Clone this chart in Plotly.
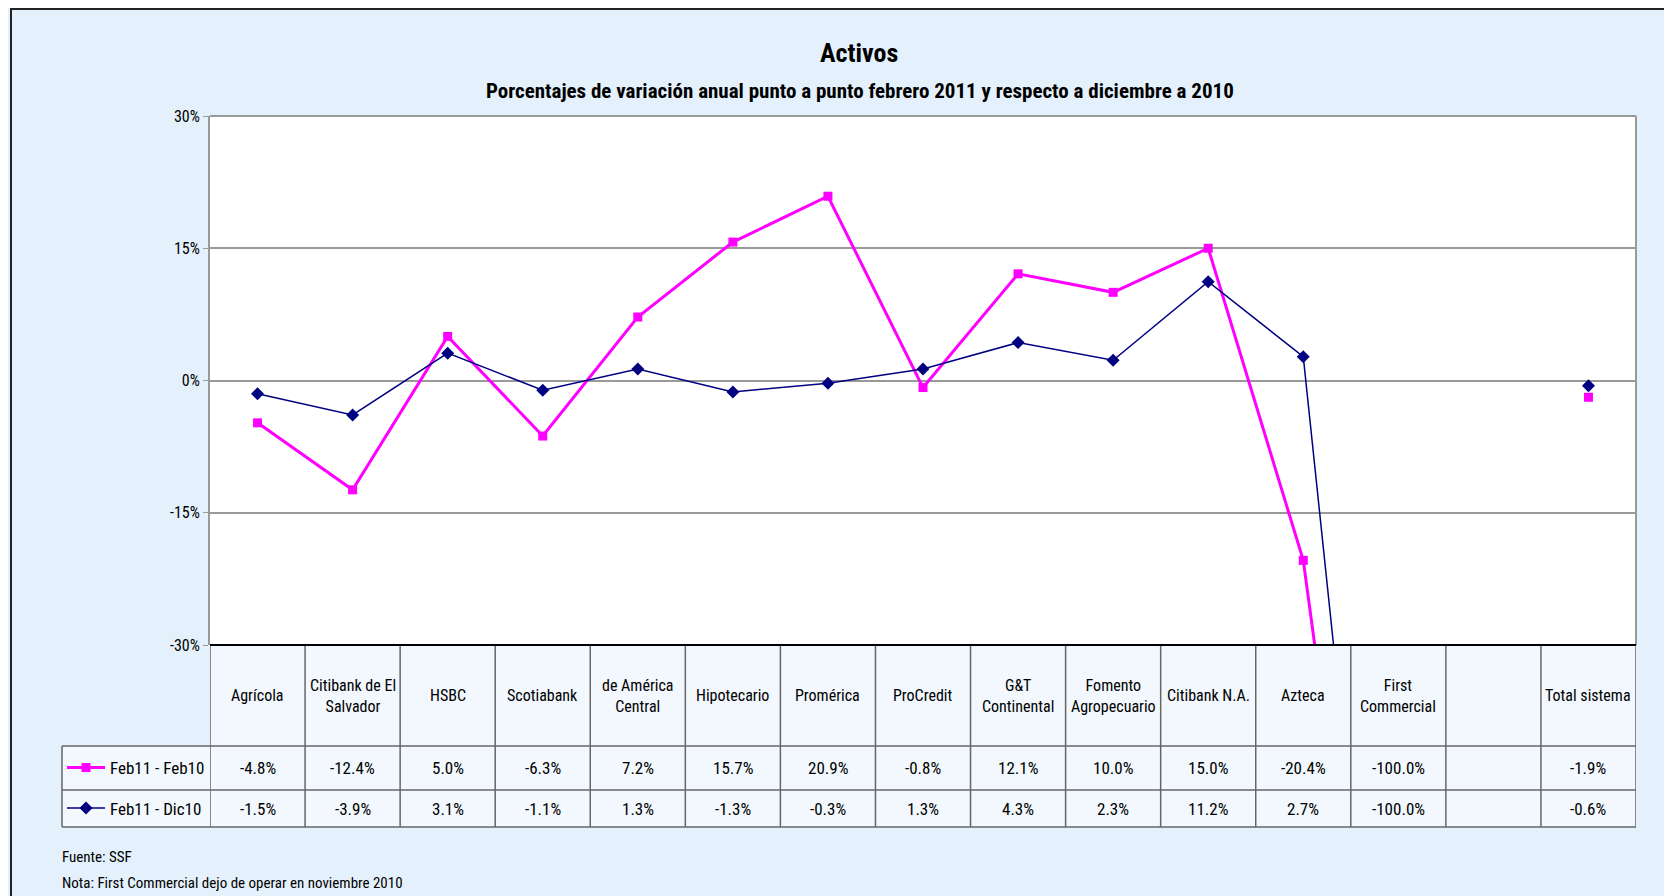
import plotly.graph_objects as go

# ---------------- data ----------------
categories = ["Agrícola", "Citibank de El Salvador", "HSBC", "Scotiabank",
              "de América Central", "Hipotecario", "Promérica", "ProCredit",
              "G&T Continental", "Fomento Agropecuario", "Citibank N.A.", "Azteca",
              "First Commercial", "", "Total sistema"]
header_labels = ["Agrícola", "Citibank de El<br>Salvador", "HSBC", "Scotiabank",
                 "de América<br>Central", "Hipotecario", "Promérica", "ProCredit",
                 "G&T<br>Continental", "Fomento<br>Agropecuario", "Citibank N.A.", "Azteca",
                 "First<br>Commercial", "", "Total sistema"]
feb11_feb10 = [-4.8, -12.4, 5.0, -6.3, 7.2, 15.7, 20.9, -0.8, 12.1, 10.0, 15.0, -20.4, -100.0, None, -1.9]
feb11_dic10 = [-1.5, -3.9, 3.1, -1.1, 1.3, -1.3, -0.3, 1.3, 4.3, 2.3, 11.2, 2.7, -100.0, None, -0.6]
series_names = ["Feb11 - Feb10", "Feb11 - Dic10"]
y_ticks = [-30, -15, 0, 15, 30]
y_tick_labels = ["-30%", "-15%", "0%", "15%", "30%"]
title_text = "Activos"
subtitle_text = "Porcentajes de variación anual punto a punto febrero 2011 y respecto a diciembre a 2010"
notes = ["Fuente: SSF", "Nota: First Commercial dejo de operar en noviembre 2010"]

# ---------------- layout helpers ----------------
OFF = 8  # page body margin
W, H = 1672 - OFF, 896 - OFF
L, R, T, B = 210, 1636, 116, 645
FONT = "Liberation Sans Narrow, Arial Narrow, Roboto Condensed, DejaVu Sans Condensed, sans-serif"
MAGENTA = "#FF00FF"
NAVY = "#000080"
GRID = "#999999"
TBL = "#666666"


def py(p):
    return (B - p) / (B - T)


def px(p):
    return (p - L) / (R - L)


xs = list(range(len(categories)))
n = len(categories)

fig = go.Figure()
fig.add_trace(go.Scatter(
    x=xs, y=feb11_feb10, name=series_names[0], mode="lines+markers",
    line=dict(color=MAGENTA, width=3), marker=dict(symbol="square", size=9, color=MAGENTA),
    connectgaps=False, legend="legend", hoverinfo="skip"))
fig.add_trace(go.Scatter(
    x=xs, y=feb11_dic10, name=series_names[1], mode="lines+markers",
    line=dict(color=NAVY, width=1.5), marker=dict(symbol="diamond", size=10, color=NAVY),
    connectgaps=False, legend="legend2", hoverinfo="skip"))

shapes = []
annotations = []

# outer chart border
shapes.append(dict(type="rect", xref="paper", yref="paper", x0=px(11), x1=px(1760),
                   y0=py(1000), y1=py(9), line=dict(color="#222222", width=2), layer="below"))
# table fill
shapes.append(dict(type="rect", xref="x", yref="paper", x0=-0.5, x1=n - 0.5,
                   y0=py(827), y1=py(645), fillcolor="#F2F8FE", line=dict(width=0), layer="below"))
shapes.append(dict(type="rect", xref="paper", yref="paper", x0=px(62), x1=0,
                   y0=py(827), y1=py(746), fillcolor="#F2F8FE", line=dict(width=0), layer="below"))
# plot area border (top/right gray)
shapes.append(dict(type="line", xref="paper", yref="paper", x0=0, x1=1, y0=1, y1=1,
                   line=dict(color=GRID, width=2)))
shapes.append(dict(type="line", xref="paper", yref="paper", x0=1, x1=1, y0=0, y1=1,
                   line=dict(color=GRID, width=2)))
# table grid: vertical lines
for k in range(n + 1):
    shapes.append(dict(type="line", xref="x", yref="paper", x0=k - 0.5, x1=k - 0.5,
                       y0=py(827), y1=0, line=dict(color=TBL, width=1.5)))
# legend column left edge
shapes.append(dict(type="line", xref="paper", yref="paper", x0=px(62), x1=px(62),
                   y0=py(827), y1=py(746), line=dict(color=TBL, width=1.5)))
# horizontal rows
for yy in (746, 790, 827):
    shapes.append(dict(type="line", xref="paper", yref="paper", x0=px(62), x1=1,
                       y0=py(yy), y1=py(yy), line=dict(color=TBL, width=1.5)))
# top line of table / bottom axis
shapes.append(dict(type="line", xref="paper", yref="paper", x0=0, x1=1, y0=0, y1=0,
                   line=dict(color="black", width=2)))

# header labels and values
for i in range(n):
    if header_labels[i]:
        annotations.append(dict(x=xs[i], y=py(695.5), xref="x", yref="paper", text=header_labels[i],
                                showarrow=False, font=dict(family=FONT, size=16, color="black"),
                                xanchor="center", yanchor="middle"))
    for vals, yc in ((feb11_feb10, 768), (feb11_dic10, 808.5)):
        v = vals[i]
        if v is not None:
            annotations.append(dict(x=xs[i], y=py(yc), xref="x", yref="paper", text=f"{v:.1f}%",
                                    showarrow=False, font=dict(family=FONT, size=17, color="black"),
                                    xanchor="center", yanchor="middle"))

# titles
annotations.append(dict(x=px(859), y=py(53), xref="paper", yref="paper", text=f"<b>{title_text}</b>",
                        showarrow=False, font=dict(family=FONT, size=26, color="black"),
                        xanchor="center", yanchor="middle"))
annotations.append(dict(x=px(860), y=py(91), xref="paper", yref="paper", text=f"<b>{subtitle_text}</b>",
                        showarrow=False, font=dict(family=FONT, size=21, color="black"),
                        xanchor="center", yanchor="middle"))
# notes
for txt, yy in zip(notes, (857, 883)):
    annotations.append(dict(x=px(60), y=py(yy), xref="paper", yref="paper", text=txt,
                            showarrow=False, font=dict(family=FONT, size=15, color="black"),
                            xanchor="left", yanchor="middle"))

fig.update_layout(
    width=W, height=H,
    margin=dict(l=L - OFF, r=W - (R - OFF), t=T - OFF, b=H - (B - OFF), pad=0),
    paper_bgcolor="#E4F1FC",
    plot_bgcolor="white",
    font=dict(family=FONT, size=16, color="black"),
    showlegend=True,
    legend=dict(x=px(62), xanchor="left", y=py(768), yanchor="middle", bgcolor="rgba(0,0,0,0)",
                font=dict(family=FONT, size=17), itemwidth=38, borderwidth=0),
    legend2=dict(x=px(62), xanchor="left", y=py(808.5), yanchor="middle", bgcolor="rgba(0,0,0,0)",
                 font=dict(family=FONT, size=17), itemwidth=38, borderwidth=0),
    xaxis=dict(range=[-0.5, n - 0.5], showticklabels=False, showgrid=False, zeroline=False,
               showline=False, ticks=""),
    yaxis=dict(range=[-30, 30], tickvals=y_ticks, ticktext=y_tick_labels, showgrid=True,
               gridcolor=GRID, gridwidth=1.5, zeroline=False, showline=True, linecolor=GRID,
               linewidth=2, ticks="outside", ticklen=5, tickcolor=GRID,
               tickfont=dict(family=FONT, size=16, color="black")),
    shapes=shapes,
    annotations=annotations,
)

fig.write_html("out.html")
